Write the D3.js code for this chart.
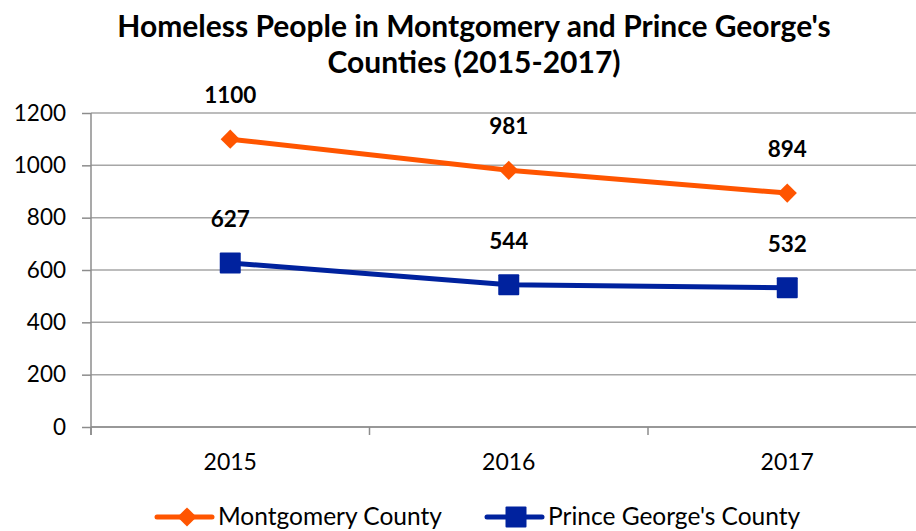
<!DOCTYPE html>
<html>
<head>
<meta charset="utf-8">
<script src="https://cdn.jsdelivr.net/npm/d3@7"></script>
<style>
  html, body { margin: 0; padding: 0; background: #fff; }
  svg { display: block; font-family: Lato, "Open Sans", sans-serif; }
</style>
</head>
<body>
<svg id="chart" width="916" height="531"></svg>
<script>
// Homeless counts by year for the two counties
const years = ["2015", "2016", "2017"];
const montgomery = [1100, 981, 894];
const princeGeorges = [627, 544, 532];
const yTicks = [0, 200, 400, 600, 800, 1000, 1200];
const seriesNames = ["Montgomery County", "Prince George's County"];
const seriesColors = ["#FF5500", "#00229E"];

const svg = d3.select("#chart");
const margin = { left: 91, top: 113, bottom: 427 };
const bandW = 278.5;

const x = d3.scaleBand().domain(years).range([margin.left, margin.left + bandW * years.length]);
const y = d3.scaleLinear().domain([0, 1200]).range([margin.bottom, margin.top]);

// Title
const title = svg.append("text").attr("text-anchor", "middle").attr("font-weight", "bold")
  .attr("font-size", 30).attr("fill", "#000");
title.append("tspan").attr("x", 474).attr("y", 37).text("Homeless People in Montgomery and Prince George's");
title.append("tspan").attr("x", 474).attr("y", 73).text("Counties (2015-2017)");

// Horizontal gridlines
svg.append("g").selectAll("line").data(yTicks).join("line")
  .attr("x1", margin.left).attr("x2", 916)
  .attr("y1", d => y(d)).attr("y2", d => y(d))
  .attr("stroke", "#a6a6a6").attr("stroke-width", 1.5);

// Y axis
const yAxis = svg.append("g").attr("transform", `translate(${margin.left},0)`)
  .call(d3.axisLeft(y).tickValues(yTicks).tickSize(9).tickPadding(16).tickFormat(d3.format("d")));
yAxis.select(".domain").attr("stroke", "#8c8c8c").attr("stroke-width", 1.5)
  .attr("d", `M0,${margin.top}V${margin.bottom + 8}`);
yAxis.selectAll(".tick line").attr("stroke", "#8c8c8c").attr("stroke-width", 1.5);
yAxis.selectAll(".tick text").attr("font-size", 22.5).attr("fill", "#000")
  .attr("font-family", "Lato, 'Open Sans', sans-serif");

// X axis with ticks at category boundaries
const xAxisG = svg.append("g").attr("transform", `translate(0,${margin.bottom})`);
xAxisG.append("line").attr("x1", margin.left).attr("x2", 916).attr("y1", 0).attr("y2", 0)
  .attr("stroke", "#8c8c8c").attr("stroke-width", 1.5);
const boundaries = years.map(d => x(d)).concat([x(years[years.length - 1]) + x.bandwidth()]);
xAxisG.selectAll("line.tk").data(boundaries).join("line").attr("class", "tk")
  .attr("x1", d => d).attr("x2", d => d).attr("y1", 0).attr("y2", 8)
  .attr("stroke", "#8c8c8c").attr("stroke-width", 1.5);
xAxisG.selectAll("text").data(years).join("text")
  .attr("x", d => x(d) + x.bandwidth() / 2).attr("y", 43)
  .attr("text-anchor", "middle").attr("font-size", 23).attr("fill", "#000").text(d => d);

const cx = d => x(d) + x.bandwidth() / 2;
const line = d3.line().x((d, i) => cx(years[i])).y(d => y(d));

// Montgomery series
svg.append("path").datum(montgomery).attr("d", line).attr("fill", "none")
  .attr("stroke", seriesColors[0]).attr("stroke-width", 5).attr("stroke-linejoin", "round");
svg.append("g").selectAll("path").data(montgomery).join("path")
  .attr("d", d3.symbol().type(d3.symbolSquare).size(185))
  .attr("transform", (d, i) => `translate(${cx(years[i])},${y(d)}) rotate(45)`)
  .attr("fill", seriesColors[0]);

// Prince George's series
svg.append("path").datum(princeGeorges).attr("d", line).attr("fill", "none")
  .attr("stroke", seriesColors[1]).attr("stroke-width", 5).attr("stroke-linejoin", "round");
svg.append("g").selectAll("rect").data(princeGeorges).join("rect")
  .attr("x", (d, i) => cx(years[i]) - 10.5).attr("y", d => y(d) - 10.5)
  .attr("width", 21).attr("height", 21).attr("rx", 1).attr("fill", seriesColors[1]);

// Data labels
[montgomery, princeGeorges].forEach(series => {
  svg.append("g").selectAll("text").data(series).join("text")
    .attr("x", (d, i) => cx(years[i])).attr("y", d => y(d) - 36)
    .attr("text-anchor", "middle").attr("font-size", 22.5).attr("font-weight", "bold")
    .attr("fill", "#000").text(d => d);
});

// Legend
const legendItems = [
  { name: seriesNames[0], color: seriesColors[0], x0: 157, marker: "diamond" },
  { name: seriesNames[1], color: seriesColors[1], x0: 487, marker: "square" }
];
const ly = 517;
legendItems.forEach(it => {
  const g = svg.append("g");
  g.append("line").attr("x1", it.x0).attr("x2", it.x0 + 55).attr("y1", ly).attr("y2", ly)
    .attr("stroke", it.color).attr("stroke-width", 5).attr("stroke-linecap", "round");
  if (it.marker === "diamond") {
    g.append("path").attr("d", d3.symbol().type(d3.symbolSquare).size(185))
      .attr("transform", `translate(${it.x0 + 30},${ly}) rotate(45)`).attr("fill", it.color);
  } else {
    g.append("rect").attr("x", it.x0 + 29 - 10.5).attr("y", ly - 10.5).attr("width", 21).attr("height", 21)
      .attr("rx", 1).attr("fill", it.color);
  }
  g.append("text").attr("x", it.x0 + 61).attr("y", ly + 8).attr("font-size", 24.5).attr("fill", "#000")
    .text(it.name);
});
</script>
</body>
</html>
